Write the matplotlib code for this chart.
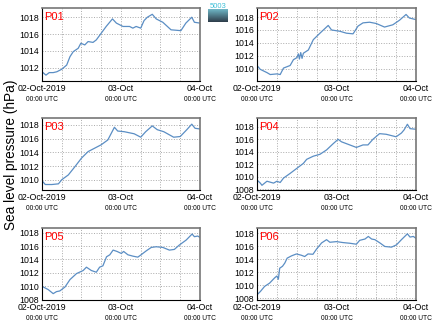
import matplotlib
matplotlib.use('Agg')
import matplotlib.pyplot as plt
import numpy as np

plt.rcParams['font.family'] = ['Liberation Sans', 'DejaVu Sans']

# hours since 02-Oct-2019 00:00 UTC, sea level pressure (hPa)
p01_h = [0, 1.2, 2.2, 3.4, 4.5, 6, 7.5, 8.5, 9.5, 11, 11.8, 13, 14, 15.5, 16.5, 18, 19.5, 21.4,
         22.6, 24.6, 26.6, 27.6, 28.6, 30, 31, 32, 33.5, 34.7, 36.7, 39.2, 42.2, 43.7, 45.5, 46.3, 48]
p01_p = [1011.5, 1011.1, 1011.4, 1011.4, 1011.5, 1011.8, 1012.3, 1013.3, 1013.9, 1014.3, 1014.9, 1014.7,
         1015.1, 1015.0, 1015.3, 1016.1, 1016.9, 1017.8, 1017.3, 1016.9, 1016.9, 1016.7, 1016.9, 1016.7,
         1017.6, 1018.0, 1018.35, 1017.8, 1017.4, 1016.5, 1016.4, 1017.3, 1018.0, 1017.4, 1017.3]

p02_h = [0, 1, 3, 4, 6, 7, 8, 10, 11, 12, 12.5, 12.8, 13.2, 13.6, 14, 15.5, 17, 19, 21.5, 22.5, 25, 27,
         29, 30.5, 32, 34, 36, 38.5, 41, 43, 45, 46, 48]
p02_p = [1010.5, 1009.9, 1009.4, 1009.1, 1009.2, 1009.1, 1010.1, 1010.5, 1011.4, 1011.7, 1012.3, 1011.5,
         1012.5, 1011.6, 1012.4, 1012.9, 1014.5, 1015.5, 1016.7, 1016.0, 1015.8, 1015.5, 1015.4, 1016.6,
         1017.1, 1017.2, 1017.0, 1016.45, 1016.8, 1017.5, 1018.4, 1017.85, 1017.6]

p03_h = [0, 1, 3, 5, 6, 8, 10, 12, 14, 16, 18, 20, 22, 23, 25, 28, 30, 31.5, 33.5, 35, 37, 40, 42,
         44, 45.5, 46.5, 48]
p03_p = [1009.85, 1009.3, 1009.3, 1009.4, 1010.0, 1010.7, 1011.9, 1013.15, 1014.1, 1014.6, 1015.1,
         1015.8, 1017.65, 1017.1, 1017.0, 1016.7, 1016.2, 1017.0, 1017.85, 1017.3, 1017.0, 1016.2,
         1016.3, 1017.3, 1018.1, 1017.5, 1017.4]

p04_h = [0, 1, 1.5, 3, 5, 6, 7, 8, 10, 12, 14, 15, 17, 19, 21, 23, 24.5, 25.5, 28, 30, 32, 33.5, 35,
         37, 39, 42, 43.6, 44.4, 45.4, 46.2, 48]
p04_p = [1009.5, 1009.0, 1008.65, 1009.3, 1009.0, 1009.3, 1009.1, 1009.8, 1010.55, 1011.35, 1012.15,
         1012.8, 1013.3, 1013.6, 1014.3, 1015.3, 1016.0, 1015.6, 1015.1, 1014.7, 1015.1, 1015.1, 1016.0,
         1016.9, 1016.8, 1016.4, 1017.0, 1017.5, 1018.4, 1017.7, 1017.6]

p05_h = [0, 1.9, 3.4, 4.4, 5.4, 7, 8.5, 10.5, 12.5, 13.5, 15, 16.5, 17.5, 18.5, 19.6, 20.6, 21.6, 22.8,
         24.1, 24.8, 26.1, 27.6, 29.1, 30.1, 31.7, 33.2, 34.7, 36.7, 38.7, 40.2, 41.7, 43.8, 45.6, 46.3,
         47.3, 48]
p05_p = [1010.0, 1009.5, 1008.9, 1009.2, 1009.3, 1009.9, 1011.0, 1011.9, 1012.35, 1012.85, 1012.35,
         1012.1, 1012.85, 1013.05, 1014.4, 1014.7, 1015.4, 1015.2, 1014.9, 1015.2, 1014.7, 1014.5,
         1014.35, 1014.7, 1015.3, 1015.8, 1015.9, 1015.8, 1015.4, 1015.5, 1016.15, 1016.9, 1017.8,
         1017.4, 1017.5, 1017.3]

p06_h = [0, 1, 2.3, 3.8, 5.3, 6, 6.45, 6.85, 7.7, 8.4, 9.1, 10.4, 11.9, 13.4, 14.4, 15.4, 16.9, 17.9,
         19.5, 21, 22, 24, 26, 28, 30, 31, 32.6, 33.6, 34.6, 35.6, 37.1, 38.6, 40.6, 42.1, 43.6, 45.4,
         46.2, 47.2, 48]
p06_p = [1008.5, 1009.0, 1009.8, 1010.3, 1011.1, 1011.4, 1010.9, 1012.6, 1012.9, 1013.4, 1014.15,
         1014.5, 1014.8, 1014.6, 1014.4, 1014.8, 1014.75, 1015.5, 1016.5, 1017.0, 1016.6, 1016.7,
         1016.55, 1016.45, 1016.3, 1016.9, 1017.1, 1017.5, 1017.1, 1017.0, 1016.5, 1015.95, 1015.85,
         1016.2, 1017.0, 1017.9, 1017.4, 1017.5, 1017.2]

names = ['P01', 'P02', 'P03', 'P04', 'P05', 'P06']
hours = [p01_h, p02_h, p03_h, p04_h, p05_h, p06_h]
press = [p01_p, p02_p, p03_p, p04_p, p05_p, p06_p]
ylims = [(1010.4, 1019.1), (1008.1, 1019.4), (1008.5, 1019.0),
         (1007.9, 1019.4), (1007.95, 1018.7), (1007.7, 1018.8)]

xtick_pos = [0, 24, 48]
xtick_top = ['02-Oct-2019', '03-Oct', '04-Oct']
xtick_sub = ['00:00 UTC', '00:00 UTC', '00:00 UTC']

W, H = 435, 327
fig = plt.figure(figsize=(W / 100, H / 100), dpi=100)

# axes boxes in pixels: left, right / top, bottom
cols = [(42, 200), (257, 416)]
rows = [(8, 81), (118, 190), (228, 300)]

for i in range(6):
    c0, c1 = cols[i % 2]
    r0, r1 = rows[i // 2]
    ax = fig.add_axes([c0 / W, 1 - r1 / H, (c1 - c0) / W, (r1 - r0) / H])
    ax.plot(hours[i], press[i], color='#5b8ec4', lw=0.9)
    lo, hi = ylims[i]
    yt = [v for v in range(1008, 1020, 2) if lo <= v <= hi]
    ax.set_yticks(yt)
    ax.set_xticks(np.arange(0, 49, 6), minor=True)
    ax.set_xticks(xtick_pos)
    ax.set_xticklabels(xtick_top)
    ax.set_xlim(0, 48)
    ax.set_ylim(lo, hi)
    ax.grid(True, which='both', axis='x', ls=':', color='#aaaaaa', lw=0.7)
    ax.grid(True, which='major', axis='y', ls=':', color='#aaaaaa', lw=0.7)
    ax.tick_params(axis='both', which='both', length=0, labelsize=6.3, pad=2)
    ax.tick_params(axis='x', pad=2.5)
    for s in ['left', 'bottom']:
        ax.spines[s].set_color('black')
        ax.spines[s].set_linewidth(0.8)
    for s in ['top', 'right']:
        ax.spines[s].set_color('#777777')
        ax.spines[s].set_linewidth(1.2)
    for x, t in zip(xtick_pos, xtick_sub):
        ax.annotate(t, xy=(x, 0), xycoords=('data', 'axes fraction'),
                    xytext=(0, -10.5), textcoords='offset points',
                    ha='center', va='top', fontsize=4.8)
    ax.text(0.015, 0.95, names[i], transform=ax.transAxes, color='red',
            fontsize=8, ha='left', va='top')

fig.text(11 / W, 1 - 155 / H, 'Sea level pressure (hPa)', rotation=90,
         ha='center', va='center', fontsize=9.8)

# small logo at top
lax = fig.add_axes([208 / W, 1 - 22 / H, 20 / W, 13 / H])
grad = np.linspace(0, 1, 50).reshape(-1, 1)
lax.imshow(grad, aspect='auto', cmap=matplotlib.colors.LinearSegmentedColormap.from_list(
    'lg', ['#6fb6c6', '#2e3d4a']), extent=(0, 1, 0, 1))
lax.set_axis_off()
fig.text(218 / W, 1 - 6 / H, '5003', color='#3fc0d8', fontsize=5.5,
         ha='center', va='center')

fig.savefig('out.png', dpi=100)
